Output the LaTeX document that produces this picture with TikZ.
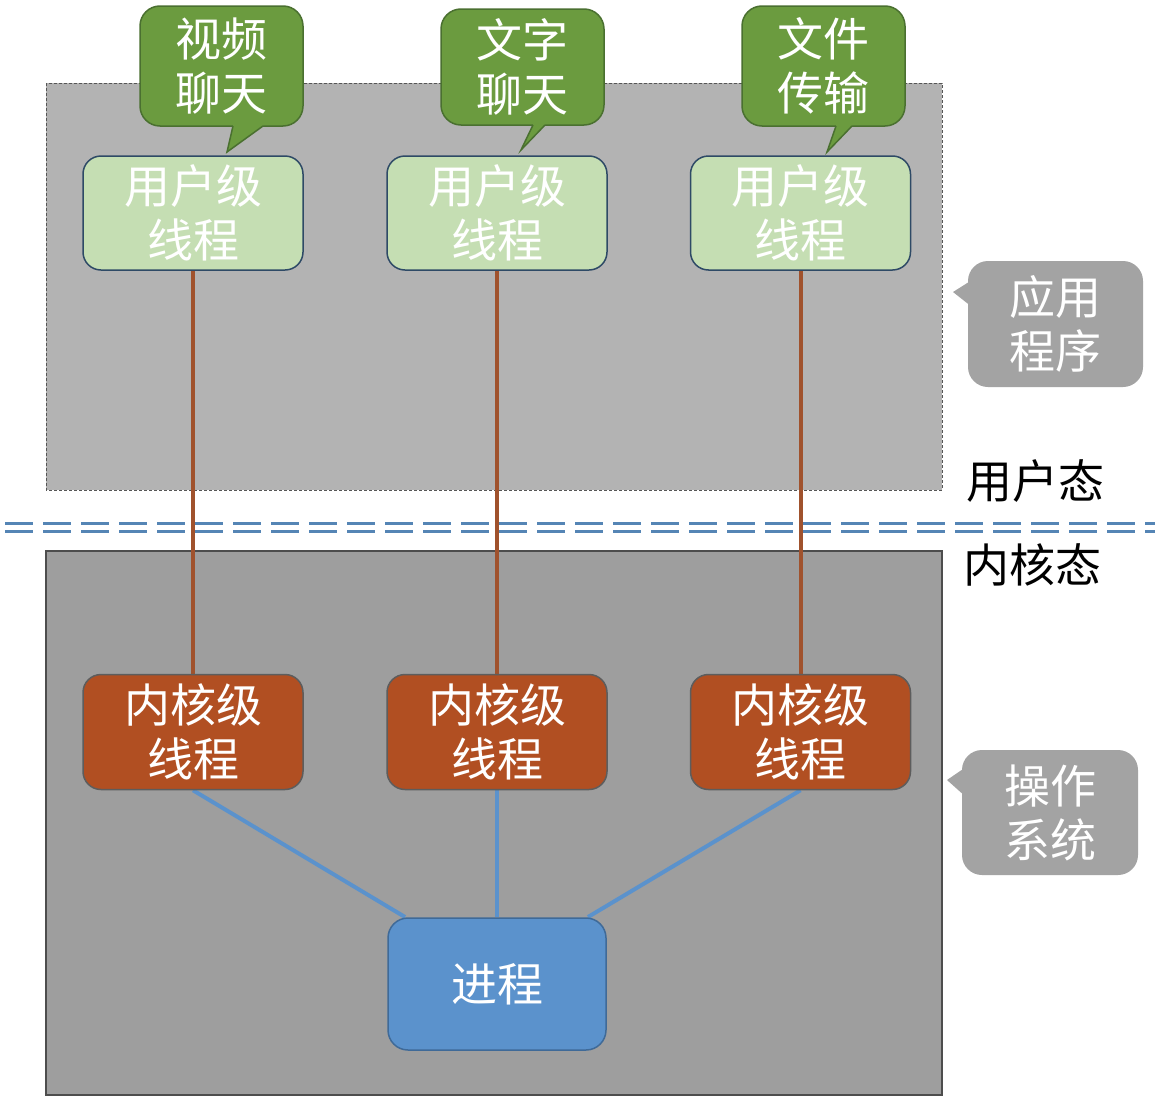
\documentclass[tikz,border=0pt]{standalone}
\usepackage{fontspec}
\newfontfamily\cjk{Noto Sans CJK SC}
\pgfdeclarelayer{regions}
\pgfdeclarelayer{links}
\pgfsetlayers{regions,links,main}
\definecolor{topfill}{HTML}{B3B3B3}
\definecolor{topborder}{HTML}{555555}
\definecolor{botfill}{HTML}{9E9E9E}
\definecolor{botborder}{HTML}{4D4D4D}
\definecolor{gfill}{HTML}{6B9B3F}
\definecolor{gborder}{HTML}{4A7030}
\definecolor{ufill}{HTML}{C5DEB3}
\definecolor{uborder}{HTML}{2E4A66}
\definecolor{kfill}{HTML}{B14F22}
\definecolor{kborder}{HTML}{5D5D5D}
\definecolor{pfill}{HTML}{5B92CC}
\definecolor{pborder}{HTML}{3F6A98}
\definecolor{cfill}{HTML}{A3A3A3}
\definecolor{brownline}{HTML}{A0522D}
\definecolor{blueline}{HTML}{5B92CC}
\definecolor{divline}{HTML}{5585B5}
\begin{document}
\begin{tikzpicture}[x=1pt,y=-1pt,
  txt/.style={font=\cjk\fontsize{46}{54}\selectfont, text=white, align=center, inner sep=0pt},
  userbox/.style={txt, draw=uborder, fill=ufill, line width=1.5pt, rounded corners=18pt, minimum width=220pt, minimum height=114pt},
  kernbox/.style={txt, draw=kborder, fill=kfill, line width=1.5pt, rounded corners=18pt, minimum width=220pt, minimum height=115pt},
  procbox/.style={txt, draw=pborder, fill=pfill, line width=1.5pt, rounded corners=20pt, minimum width=218pt, minimum height=132pt},
  gcall/.style={txt, draw=gborder, fill=gfill, line width=1.5pt, rounded corners=20pt, minimum width=163pt},
  acall/.style={txt, fill=cfill, rounded corners=20pt},
  utie/.style={draw=brownline, line width=4pt},
  ptie/.style={draw=blueline, line width=4pt},
  divider/.style={draw=divline, line width=3pt, dash pattern=on 28pt off 10pt, dash phase=33pt},
  statelabel/.style={font=\cjk\fontsize{46}{54}\selectfont, text=black, inner sep=0pt}
]
\useasboundingbox (0,0) rectangle (1155,1100);

\begin{pgfonlayer}{regions}
\fill[white] (0,0) rectangle (1155,1100);
\path[fill=topfill, draw=topborder, line width=1pt, dash pattern=on 3pt off 2pt] (46,83) rectangle (942,490);
\path[fill=botfill, draw=botborder, line width=1.5pt] (46,551) rectangle (942,1095);
\coordinate (dl1) at (0,523); \coordinate (dr1) at (1155,523);
\coordinate (dl2) at (0,531); \coordinate (dr2) at (1155,531);
\draw[divider] (dl1) -- (dr1);
\draw[divider] (dl2) -- (dr2);
\end{pgfonlayer}

% thread and process nodes
\node[userbox] (u1) at (193,213) {用户级\\线程};
\node[userbox] (u2) at (497,213) {用户级\\线程};
\node[userbox] (u3) at (800.5,213) {用户级\\线程};
\node[kernbox] (k1) at (193,732) {内核级\\线程};
\node[kernbox] (k2) at (497,732) {内核级\\线程};
\node[kernbox] (k3) at (800.5,732) {内核级\\线程};
\node[procbox] (p) at (497,984) {进程};

% connectors
\begin{pgfonlayer}{links}
\draw[utie] (u1.south) -- (k1.north);
\draw[utie] (u2.south) -- (k2.north);
\draw[utie] (u3.south) -- (k3.north);
\coordinate (pl) at (405,917);
\coordinate (pr) at (588,917);
\draw[ptie] (k1.south) -- (pl);
\draw[ptie] (k2.south) -- (p.north);
\draw[ptie] (k3.south) -- (pr);
\end{pgfonlayer}

% green callouts
\node[gcall, minimum height=120pt] (c1) at (221.5,66) {视频\\聊天};
\fill[gfill] (233,118) -- (233,126) -- (227,152) -- (263,126) -- (263,118) -- cycle;
\draw[gborder, line width=1.5pt, line join=miter] (233,126) -- (227,152) -- (263,126);

\node[gcall, minimum height=116pt] (c2) at (522.5,67) {文字\\聊天};
\fill[gfill] (533,117) -- (533,125) -- (521,150) -- (545,125) -- (545,117) -- cycle;
\draw[gborder, line width=1.5pt, line join=miter] (533,125) -- (521,150) -- (545,125);

\node[gcall, minimum height=120pt] (c3) at (823.5,66) {文件\\传输};
\fill[gfill] (836,118) -- (836,126) -- (827,152) -- (852,126) -- (852,118) -- cycle;
\draw[gborder, line width=1.5pt, line join=miter] (836,126) -- (827,152) -- (852,126);

% gray callouts
\node[acall, minimum width=175pt, minimum height=126pt] (a1) at (1055.5,324) {应用\\程序};
\fill[cfill] (972,280) -- (953,292) -- (972,307) -- cycle;
\node[acall, minimum width=176pt, minimum height=125pt] (a2) at (1050,812.5) {操作\\系统};
\fill[cfill] (966,767) -- (947,780) -- (966,797) -- cycle;

% state labels
\node[statelabel] (us) at (1035,481) {用户态};
\node[statelabel] (ks) at (1032,565) {内核态};
\end{tikzpicture}
\end{document}
